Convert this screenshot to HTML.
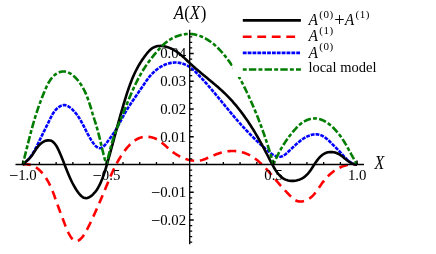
<!DOCTYPE html>
<html><head><meta charset="utf-8"><style>
html,body{margin:0;padding:0;background:#fff;}
svg{display:block;will-change:transform;}
text{font-family:"Liberation Serif",serif;font-size:14.8px;fill:#000;}
.it{font-style:italic;}
</style></head><body>
<svg width="436" height="254" viewBox="0 0 436 254">
<rect width="436" height="254" fill="#fff"/>
<g fill="none" stroke-linejoin="miter" stroke-miterlimit="6">
<path d="M22.70,164.50 L24.02,164.34 L25.32,164.28 L26.58,164.30 L27.81,164.41 L29.01,164.60 L30.18,164.86 L31.32,165.20 L32.43,165.60 L33.51,166.07 L34.56,166.61 L35.58,167.20 L36.57,167.84 L37.54,168.54 L38.47,169.28 L39.38,170.07 L40.26,170.90 L41.11,171.76 L41.93,172.65 L42.73,173.58 L43.49,174.53 L44.24,175.50 L44.95,176.48 L45.64,177.49 L46.30,178.50 L46.94,179.53 L47.56,180.57 L48.15,181.62 L48.73,182.69 L49.28,183.76 L49.82,184.84 L50.34,185.93 L50.84,187.03 L51.33,188.14 L51.81,189.25 L52.27,190.38 L52.72,191.50 L53.17,192.63 L53.60,193.77 L54.03,194.91 L54.45,196.05 L54.86,197.20 L55.27,198.35 L55.68,199.50 L56.09,200.65 L56.49,201.80 L56.90,202.95 L57.31,204.10 L57.72,205.25 L58.14,206.39 L58.55,207.53 L58.97,208.68 L59.39,209.82 L59.81,210.95 L60.24,212.09 L60.66,213.22 L61.08,214.35 L61.51,215.47 L61.93,216.60 L62.35,217.71 L62.78,218.83 L63.20,219.94 L63.62,221.05 L64.04,222.16 L64.45,223.26 L64.87,224.35 L65.28,225.44 L65.70,226.54 L66.12,227.63 L66.57,228.73 L67.03,229.84 L67.53,230.96 L68.07,232.10 L68.65,233.26 L69.28,234.44 L69.96,235.63 L70.69,236.78 L71.46,237.87 L72.28,238.86 L73.13,239.71 L74.01,240.40 L74.93,240.88 L75.87,241.13 L76.83,241.10 L77.80,240.83 L78.77,240.35 L79.74,239.67 L80.69,238.85 L81.61,237.90 L82.49,236.86 L83.31,235.76 L84.09,234.63 L84.81,233.47 L85.50,232.31 L86.15,231.15 L86.77,230.00 L87.37,228.87 L87.95,227.75 L88.51,226.66 L89.06,225.58 L89.59,224.51 L90.10,223.45 L90.61,222.39 L91.11,221.34 L91.60,220.29 L92.09,219.24 L92.58,218.18 L93.07,217.12 L93.56,216.05 L94.05,214.97 L94.54,213.88 L95.03,212.79 L95.52,211.70 L96.01,210.60 L96.50,209.49 L96.99,208.38 L97.49,207.26 L97.98,206.14 L98.47,205.02 L98.96,203.89 L99.44,202.76 L99.93,201.63 L100.42,200.50 L100.90,199.37 L101.39,198.23 L101.87,197.10 L102.35,195.96 L102.83,194.82 L103.30,193.69 L103.77,192.55 L104.24,191.42 L104.71,190.29 L105.18,189.16 L105.64,188.03 L106.10,186.91 L106.56,185.78 L107.02,184.66 L107.48,183.55 L107.94,182.43 L108.40,181.32 L108.86,180.21 L109.33,179.10 L109.80,178.00 L110.27,176.90 L110.74,175.80 L111.22,174.71 L111.71,173.62 L112.20,172.53 L112.69,171.44 L113.20,170.36 L113.71,169.29 L114.23,168.21 L114.75,167.15 L115.29,166.08 L115.84,165.02 L116.39,163.96 L116.96,162.91 L117.54,161.86 L118.13,160.81 L118.73,159.77 L119.35,158.74 L119.98,157.71 L120.62,156.68 L121.28,155.66 L121.95,154.64 L122.64,153.63 L123.35,152.63 L124.07,151.62 L124.81,150.63 L125.57,149.64 L126.35,148.66 L127.15,147.69 L127.96,146.74 L128.80,145.82 L129.65,144.91 L130.53,144.04 L131.43,143.19 L132.35,142.39 L133.29,141.62 L134.25,140.89 L135.24,140.21 L136.25,139.58 L137.28,139.01 L138.34,138.49 L139.42,138.03 L140.53,137.64 L141.66,137.32 L142.82,137.07 L144.00,136.89 L145.19,136.78 L146.40,136.74 L147.61,136.77 L148.82,136.86 L150.03,137.02 L151.23,137.25 L152.41,137.54 L153.58,137.89 L154.71,138.30 L155.82,138.77 L156.90,139.30 L157.94,139.88 L158.95,140.51 L159.94,141.19 L160.90,141.90 L161.84,142.64 L162.77,143.41 L163.69,144.20 L164.60,145.01 L165.50,145.83 L166.41,146.65 L167.31,147.47 L168.22,148.29 L169.14,149.09 L170.08,149.88 L171.03,150.65 L171.99,151.41 L172.97,152.14 L173.96,152.84 L174.96,153.53 L175.98,154.19 L177.02,154.83 L178.06,155.44 L179.13,156.03 L180.20,156.59 L181.30,157.12 L182.40,157.62 L183.52,158.09 L184.65,158.53 L185.80,158.94 L186.96,159.31 L188.14,159.65 L189.32,159.94 L190.51,160.20 L191.70,160.41 L192.90,160.57 L194.10,160.69 L195.30,160.75 L196.50,160.76 L197.69,160.71 L198.88,160.60 L200.06,160.43 L201.22,160.19 L202.38,159.89 L203.53,159.55 L204.67,159.15 L205.81,158.73 L206.93,158.27 L208.05,157.80 L209.16,157.32 L210.27,156.83 L211.38,156.35 L212.48,155.88 L213.58,155.41 L214.68,154.96 L215.79,154.52 L216.89,154.09 L218.00,153.69 L219.12,153.30 L220.24,152.94 L221.37,152.60 L222.51,152.28 L223.67,152.00 L224.83,151.75 L226.01,151.53 L227.20,151.34 L228.41,151.20 L229.62,151.08 L230.85,151.01 L232.07,150.97 L233.31,150.98 L234.54,151.02 L235.77,151.10 L236.99,151.22 L238.21,151.38 L239.42,151.58 L240.61,151.82 L241.79,152.10 L242.96,152.43 L244.10,152.79 L245.23,153.20 L246.35,153.64 L247.44,154.12 L248.52,154.63 L249.58,155.18 L250.63,155.76 L251.66,156.37 L252.68,157.00 L253.68,157.67 L254.67,158.36 L255.64,159.07 L256.60,159.81 L257.55,160.56 L258.48,161.34 L259.40,162.13 L260.31,162.94 L261.20,163.76 L262.08,164.60 L262.95,165.45 L263.81,166.31 L264.66,167.18 L265.50,168.06 L266.33,168.95 L267.15,169.84 L267.97,170.75 L268.78,171.65 L269.58,172.57 L270.37,173.49 L271.16,174.41 L271.95,175.34 L272.73,176.26 L273.51,177.19 L274.29,178.12 L275.07,179.05 L275.85,179.98 L276.62,180.91 L277.40,181.83 L278.18,182.75 L278.96,183.67 L279.75,184.58 L280.54,185.49 L281.33,186.39 L282.13,187.29 L282.93,188.18 L283.74,189.06 L284.56,189.95 L285.38,190.83 L286.22,191.72 L287.07,192.61 L287.92,193.50 L288.79,194.40 L289.67,195.30 L290.57,196.21 L291.48,197.11 L292.42,197.98 L293.39,198.79 L294.38,199.53 L295.41,200.19 L296.49,200.73 L297.61,201.14 L298.77,201.41 L299.99,201.53 L301.22,201.51 L302.47,201.36 L303.70,201.11 L304.90,200.77 L306.05,200.34 L307.15,199.85 L308.20,199.29 L309.20,198.67 L310.16,197.99 L311.07,197.26 L311.95,196.48 L312.80,195.65 L313.61,194.79 L314.40,193.89 L315.17,192.95 L315.92,192.00 L316.65,191.01 L317.37,190.01 L318.08,189.00 L318.79,187.97 L319.50,186.94 L320.20,185.91 L320.92,184.88 L321.64,183.86 L322.38,182.85 L323.13,181.86 L323.90,180.88 L324.68,179.92 L325.48,178.98 L326.30,178.05 L327.13,177.15 L327.98,176.27 L328.84,175.41 L329.72,174.58 L330.62,173.77 L331.53,172.99 L332.46,172.23 L333.41,171.50 L334.37,170.80 L335.35,170.13 L336.35,169.50 L337.36,168.89 L338.39,168.32 L339.43,167.78 L340.49,167.27 L341.57,166.81 L342.67,166.38 L343.78,165.99 L344.90,165.63 L346.05,165.32 L347.21,165.05 L348.39,164.82 L349.58,164.64 L350.79,164.50 L352.02,164.40 L353.26,164.35 L354.53,164.35 L355.80,164.40 L357.10,164.50" stroke="#ff0000" stroke-width="2.6" stroke-dasharray="8.85 5.73" stroke-dashoffset="0.7"/>
<path d="M22.70,164.50 L23.72,163.75 L24.69,162.97 L25.62,162.16 L26.52,161.32 L27.38,160.45 L28.21,159.56 L29.01,158.64 L29.78,157.69 L30.51,156.72 L31.23,155.74 L31.91,154.73 L32.58,153.71 L33.22,152.67 L33.84,151.61 L34.45,150.55 L35.04,149.47 L35.62,148.38 L36.18,147.29 L36.74,146.19 L37.29,145.08 L37.83,143.97 L38.36,142.86 L38.89,141.75 L39.43,140.65 L39.96,139.54 L40.49,138.44 L41.03,137.34 L41.57,136.25 L42.11,135.15 L42.64,134.06 L43.19,132.97 L43.73,131.89 L44.27,130.80 L44.81,129.71 L45.35,128.63 L45.89,127.54 L46.43,126.45 L46.97,125.36 L47.51,124.27 L48.05,123.18 L48.59,122.08 L49.13,120.98 L49.66,119.88 L50.19,118.77 L50.73,117.66 L51.29,116.55 L51.87,115.45 L52.48,114.36 L53.14,113.29 L53.85,112.23 L54.62,111.19 L55.45,110.18 L56.34,109.22 L57.28,108.32 L58.27,107.50 L59.28,106.77 L60.33,106.16 L61.40,105.67 L62.49,105.33 L63.58,105.16 L64.68,105.16 L65.77,105.34 L66.85,105.68 L67.92,106.16 L68.98,106.76 L70.01,107.47 L71.02,108.27 L72.01,109.15 L72.96,110.08 L73.88,111.05 L74.76,112.05 L75.60,113.05 L76.39,114.05 L77.15,115.04 L77.86,116.03 L78.55,117.02 L79.20,118.01 L79.82,119.01 L80.42,120.00 L81.01,121.00 L81.57,122.01 L82.12,123.02 L82.66,124.04 L83.20,125.07 L83.73,126.11 L84.26,127.17 L84.80,128.23 L85.34,129.31 L85.89,130.41 L86.46,131.52 L87.04,132.65 L87.65,133.80 L88.28,134.98 L88.94,136.17 L89.62,137.39 L90.35,138.63 L91.10,139.89 L91.89,141.14 L92.71,142.36 L93.56,143.53 L94.42,144.62 L95.31,145.61 L96.20,146.47 L97.11,147.19 L98.03,147.73 L98.95,148.07 L99.87,148.19 L100.79,148.06 L101.71,147.71 L102.61,147.15 L103.51,146.42 L104.40,145.55 L105.28,144.58 L106.14,143.53 L106.99,142.44 L107.82,141.34 L108.63,140.25 L109.42,139.18 L110.20,138.13 L110.95,137.08 L111.69,136.05 L112.41,135.02 L113.12,134.00 L113.81,132.97 L114.47,131.95 L115.13,130.92 L115.76,129.89 L116.38,128.84 L116.99,127.79 L117.59,126.74 L118.17,125.68 L118.75,124.62 L119.32,123.55 L119.89,122.49 L120.45,121.42 L121.01,120.35 L121.57,119.28 L122.14,118.21 L122.71,117.14 L123.28,116.07 L123.86,115.01 L124.46,113.95 L125.06,112.89 L125.67,111.84 L126.29,110.79 L126.92,109.75 L127.56,108.71 L128.21,107.67 L128.86,106.63 L129.53,105.60 L130.19,104.57 L130.87,103.54 L131.55,102.52 L132.23,101.50 L132.92,100.48 L133.61,99.46 L134.31,98.44 L135.00,97.43 L135.70,96.41 L136.40,95.40 L137.11,94.39 L137.81,93.37 L138.51,92.36 L139.21,91.35 L139.91,90.34 L140.61,89.33 L141.31,88.32 L142.00,87.31 L142.69,86.30 L143.38,85.29 L144.06,84.27 L144.74,83.26 L145.42,82.25 L146.11,81.24 L146.80,80.25 L147.51,79.26 L148.24,78.28 L148.98,77.31 L149.75,76.35 L150.55,75.42 L151.38,74.50 L152.23,73.60 L153.11,72.72 L154.01,71.87 L154.94,71.04 L155.89,70.24 L156.86,69.47 L157.86,68.73 L158.87,68.02 L159.90,67.35 L160.95,66.71 L162.02,66.11 L163.11,65.55 L164.21,65.03 L165.32,64.56 L166.45,64.13 L167.59,63.74 L168.75,63.41 L169.91,63.13 L171.09,62.89 L172.27,62.72 L173.46,62.60 L174.66,62.53 L175.86,62.53 L177.07,62.59 L178.28,62.70 L179.49,62.88 L180.69,63.12 L181.89,63.41 L183.07,63.76 L184.24,64.17 L185.39,64.63 L186.51,65.14 L187.60,65.70 L188.67,66.31 L189.70,66.96 L190.69,67.67 L191.64,68.41 L192.57,69.19 L193.48,70.00 L194.36,70.83 L195.24,71.68 L196.10,72.54 L196.96,73.40 L197.81,74.27 L198.66,75.14 L199.50,76.02 L200.34,76.91 L201.18,77.80 L202.01,78.69 L202.83,79.59 L203.66,80.49 L204.48,81.40 L205.30,82.31 L206.11,83.22 L206.92,84.13 L207.73,85.05 L208.54,85.98 L209.34,86.90 L210.14,87.83 L210.94,88.76 L211.73,89.69 L212.52,90.63 L213.32,91.57 L214.11,92.51 L214.89,93.45 L215.68,94.39 L216.46,95.34 L217.25,96.28 L218.03,97.23 L218.81,98.17 L219.59,99.12 L220.37,100.07 L221.15,101.02 L221.93,101.97 L222.71,102.92 L223.49,103.87 L224.26,104.82 L225.04,105.76 L225.82,106.71 L226.60,107.66 L227.38,108.60 L228.16,109.55 L228.94,110.49 L229.72,111.43 L230.50,112.37 L231.29,113.31 L232.07,114.25 L232.86,115.18 L233.65,116.12 L234.44,117.05 L235.23,117.97 L236.03,118.90 L236.82,119.82 L237.62,120.74 L238.42,121.65 L239.22,122.56 L240.03,123.47 L240.84,124.38 L241.65,125.28 L242.47,126.18 L243.29,127.08 L244.11,127.97 L244.94,128.86 L245.77,129.75 L246.60,130.63 L247.44,131.51 L248.28,132.39 L249.13,133.27 L249.98,134.14 L250.84,135.02 L251.70,135.88 L252.57,136.75 L253.44,137.62 L254.31,138.48 L255.20,139.34 L256.09,140.20 L256.98,141.05 L257.88,141.91 L258.79,142.76 L259.70,143.61 L260.62,144.46 L261.55,145.31 L262.48,146.15 L263.42,147.00 L264.37,147.84 L265.32,148.68 L266.28,149.52 L267.25,150.36 L268.23,151.19 L269.22,152.00 L270.21,152.79 L271.21,153.53 L272.22,154.23 L273.23,154.86 L274.25,155.43 L275.28,155.91 L276.31,156.29 L277.36,156.58 L278.40,156.74 L279.46,156.78 L280.52,156.69 L281.59,156.45 L282.66,156.04 L283.75,155.48 L284.83,154.75 L285.91,153.91 L286.97,152.99 L288.02,152.03 L289.04,151.05 L290.03,150.10 L291.00,149.18 L291.94,148.28 L292.86,147.41 L293.77,146.55 L294.68,145.71 L295.58,144.87 L296.49,144.05 L297.40,143.23 L298.32,142.43 L299.25,141.65 L300.19,140.89 L301.15,140.16 L302.13,139.45 L303.13,138.77 L304.15,138.12 L305.20,137.51 L306.28,136.94 L307.39,136.40 L308.52,135.92 L309.67,135.48 L310.85,135.11 L312.03,134.80 L313.22,134.56 L314.42,134.40 L315.61,134.32 L316.79,134.34 L317.96,134.45 L319.12,134.66 L320.25,134.97 L321.36,135.39 L322.45,135.91 L323.51,136.50 L324.56,137.17 L325.58,137.91 L326.59,138.70 L327.57,139.53 L328.54,140.40 L329.49,141.29 L330.42,142.20 L331.34,143.12 L332.24,144.04 L333.12,144.94 L334.00,145.82 L334.85,146.67 L335.70,147.51 L336.54,148.33 L337.36,149.15 L338.18,149.98 L338.99,150.81 L339.80,151.66 L340.60,152.53 L341.40,153.43 L342.21,154.35 L343.01,155.27 L343.83,156.20 L344.66,157.12 L345.51,158.03 L346.38,158.91 L347.28,159.76 L348.20,160.57 L349.16,161.33 L350.15,162.02 L351.18,162.66 L352.26,163.21 L353.39,163.68 L354.57,164.06 L355.80,164.33 L357.10,164.50" stroke="#0000ff" stroke-width="2.6" stroke-dasharray="3.8 1.06"/>
<path d="M22.70,164.50 L23.77,163.50 L24.82,162.56 L25.87,161.65 L26.89,160.77 L27.89,159.88 L28.86,158.96 L29.80,158.01 L30.70,156.99 L31.57,155.89 L32.40,154.74 L33.22,153.54 L34.02,152.31 L34.83,151.06 L35.65,149.81 L36.48,148.58 L37.35,147.38 L38.26,146.22 L39.22,145.11 L40.24,144.09 L41.33,143.15 L42.48,142.32 L43.70,141.60 L44.95,141.03 L46.22,140.61 L47.50,140.36 L48.77,140.29 L50.01,140.43 L51.22,140.79 L52.37,141.39 L53.45,142.22 L54.45,143.25 L55.38,144.42 L56.23,145.68 L57.00,146.98 L57.70,148.31 L58.36,149.65 L58.98,151.00 L59.58,152.35 L60.17,153.68 L60.73,155.01 L61.29,156.34 L61.83,157.65 L62.36,158.96 L62.88,160.27 L63.39,161.56 L63.90,162.86 L64.40,164.14 L64.90,165.43 L65.39,166.70 L65.89,167.98 L66.39,169.25 L66.89,170.51 L67.39,171.77 L67.91,173.03 L68.43,174.28 L68.96,175.54 L69.50,176.78 L70.05,178.03 L70.62,179.28 L71.21,180.52 L71.81,181.76 L72.43,183.00 L73.08,184.24 L73.76,185.48 L74.47,186.72 L75.21,187.96 L75.99,189.21 L76.81,190.45 L77.68,191.70 L78.59,192.94 L79.55,194.14 L80.55,195.26 L81.59,196.25 L82.67,197.08 L83.79,197.70 L84.94,198.08 L86.13,198.17 L87.35,197.98 L88.57,197.55 L89.78,196.91 L90.98,196.10 L92.14,195.16 L93.25,194.11 L94.30,193.00 L95.27,191.85 L96.17,190.66 L97.01,189.45 L97.79,188.21 L98.51,186.96 L99.20,185.68 L99.84,184.40 L100.44,183.10 L101.02,181.80 L101.57,180.49 L102.10,179.19 L102.61,177.87 L103.09,176.56 L103.56,175.25 L104.02,173.93 L104.45,172.61 L104.88,171.28 L105.29,169.96 L105.70,168.63 L106.10,167.31 L106.49,165.98 L106.87,164.65 L107.26,163.31 L107.64,161.98 L108.02,160.65 L108.39,159.31 L108.77,157.98 L109.14,156.64 L109.52,155.30 L109.89,153.97 L110.26,152.63 L110.63,151.29 L110.99,149.95 L111.36,148.61 L111.73,147.26 L112.09,145.92 L112.45,144.58 L112.82,143.23 L113.18,141.89 L113.54,140.55 L113.90,139.20 L114.27,137.86 L114.63,136.51 L114.99,135.17 L115.35,133.82 L115.72,132.47 L116.08,131.13 L116.45,129.78 L116.81,128.43 L117.18,127.09 L117.54,125.74 L117.91,124.39 L118.28,123.05 L118.65,121.70 L119.02,120.36 L119.39,119.01 L119.77,117.66 L120.14,116.32 L120.52,114.97 L120.90,113.63 L121.28,112.28 L121.67,110.94 L122.06,109.59 L122.45,108.25 L122.84,106.91 L123.23,105.57 L123.63,104.22 L124.03,102.88 L124.43,101.54 L124.84,100.20 L125.25,98.86 L125.66,97.53 L126.08,96.19 L126.50,94.86 L126.93,93.52 L127.36,92.19 L127.80,90.86 L128.25,89.54 L128.70,88.22 L129.16,86.90 L129.63,85.59 L130.11,84.28 L130.60,82.98 L131.10,81.68 L131.61,80.38 L132.13,79.10 L132.66,77.82 L133.21,76.54 L133.77,75.27 L134.34,74.01 L134.92,72.76 L135.52,71.52 L136.14,70.28 L136.77,69.05 L137.42,67.83 L138.08,66.62 L138.76,65.42 L139.46,64.23 L140.18,63.05 L140.91,61.88 L141.67,60.72 L142.44,59.56 L143.24,58.41 L144.07,57.25 L144.92,56.10 L145.79,54.95 L146.69,53.78 L147.62,52.63 L148.58,51.51 L149.59,50.44 L150.64,49.44 L151.74,48.56 L152.89,47.79 L154.10,47.17 L155.35,46.68 L156.65,46.32 L157.98,46.07 L159.33,45.94 L160.70,45.92 L162.08,45.99 L163.47,46.16 L164.85,46.41 L166.22,46.73 L167.57,47.13 L168.90,47.60 L170.20,48.12 L171.48,48.71 L172.73,49.34 L173.97,50.02 L175.17,50.75 L176.36,51.52 L177.52,52.32 L178.65,53.15 L179.76,54.01 L180.85,54.90 L181.91,55.80 L182.96,56.72 L183.98,57.65 L185.00,58.59 L186.00,59.54 L187.00,60.50 L188.00,61.45 L189.00,62.40 L190.00,63.35 L191.01,64.29 L192.03,65.23 L193.06,66.16 L194.10,67.08 L195.14,67.99 L196.19,68.91 L197.24,69.81 L198.30,70.72 L199.36,71.61 L200.43,72.51 L201.50,73.40 L202.58,74.30 L203.65,75.19 L204.73,76.08 L205.81,76.97 L206.89,77.85 L207.97,78.74 L209.05,79.63 L210.13,80.52 L211.21,81.42 L212.28,82.31 L213.35,83.21 L214.42,84.12 L215.49,85.02 L216.55,85.93 L217.61,86.85 L218.66,87.77 L219.70,88.70 L220.74,89.63 L221.78,90.57 L222.80,91.52 L223.82,92.47 L224.82,93.44 L225.82,94.41 L226.81,95.39 L227.79,96.38 L228.76,97.38 L229.72,98.39 L230.67,99.41 L231.61,100.44 L232.54,101.47 L233.46,102.52 L234.38,103.57 L235.28,104.63 L236.18,105.70 L237.06,106.77 L237.94,107.85 L238.81,108.94 L239.67,110.04 L240.53,111.14 L241.37,112.25 L242.21,113.37 L243.04,114.49 L243.86,115.62 L244.67,116.75 L245.48,117.89 L246.28,119.03 L247.07,120.18 L247.86,121.34 L248.63,122.50 L249.40,123.66 L250.17,124.83 L250.92,126.01 L251.67,127.18 L252.42,128.37 L253.15,129.55 L253.89,130.74 L254.61,131.93 L255.33,133.13 L256.04,134.33 L256.75,135.53 L257.45,136.73 L258.14,137.94 L258.83,139.15 L259.52,140.36 L260.20,141.57 L260.87,142.79 L261.54,144.00 L262.20,145.22 L262.86,146.44 L263.52,147.66 L264.17,148.88 L264.81,150.10 L265.45,151.32 L266.09,152.54 L266.72,153.77 L267.35,154.99 L267.98,156.21 L268.60,157.43 L269.23,158.66 L269.86,159.89 L270.50,161.13 L271.15,162.38 L271.82,163.64 L272.50,164.92 L273.21,166.20 L273.94,167.49 L274.70,168.77 L275.48,170.03 L276.30,171.27 L277.16,172.47 L278.05,173.62 L278.98,174.73 L279.95,175.76 L280.98,176.73 L282.04,177.61 L283.17,178.39 L284.34,179.08 L285.57,179.65 L286.85,180.12 L288.18,180.48 L289.53,180.73 L290.91,180.87 L292.31,180.92 L293.71,180.86 L295.11,180.71 L296.50,180.46 L297.87,180.12 L299.22,179.69 L300.52,179.17 L301.78,178.56 L302.99,177.87 L304.14,177.10 L305.22,176.26 L306.25,175.34 L307.22,174.36 L308.15,173.32 L309.05,172.23 L309.91,171.10 L310.75,169.94 L311.57,168.74 L312.38,167.52 L313.18,166.29 L313.99,165.05 L314.80,163.80 L315.63,162.57 L316.48,161.35 L317.35,160.15 L318.24,159.00 L319.17,157.90 L320.14,156.86 L321.14,155.90 L322.19,155.02 L323.29,154.24 L324.44,153.56 L325.65,153.01 L326.91,152.58 L328.22,152.28 L329.57,152.10 L330.94,152.04 L332.31,152.11 L333.69,152.29 L335.05,152.59 L336.38,153.01 L337.67,153.54 L338.92,154.18 L340.13,154.91 L341.30,155.72 L342.44,156.58 L343.57,157.48 L344.69,158.39 L345.80,159.31 L346.93,160.21 L348.06,161.07 L349.22,161.87 L350.41,162.61 L351.64,163.24 L352.92,163.77 L354.25,164.17 L355.64,164.42 L357.10,164.50" stroke="#000" stroke-width="2.6"/>
<path d="M22.70,164.50 L22.84,163.96 L22.98,163.42 L23.11,162.88 L23.25,162.35 L23.39,161.81 L23.53,161.28 L23.66,160.74 L23.80,160.21 L23.93,159.68 L24.07,159.14 L24.20,158.61 L24.33,158.08 L24.47,157.56 L24.60,157.03 L24.73,156.50 L24.86,155.97 L25.00,155.45 L25.13,154.92 L25.26,154.40 L25.39,153.87 L25.52,153.35 L25.65,152.83 L25.78,152.31 L25.91,151.79 L26.04,151.27 L26.17,150.75 L26.30,150.23 L26.43,149.71 L26.56,149.20 L26.69,148.68 L26.82,148.16 L26.95,147.65 L27.08,147.13 L27.20,146.62 L27.33,146.11 L27.46,145.59 L27.59,145.08 L27.72,144.57 L27.85,144.06 L27.98,143.55 L28.11,143.04 L28.24,142.53 L28.36,142.02 L28.49,141.51 L28.62,141.00 L28.75,140.49 L28.88,139.98 L29.01,139.48 L29.14,138.97 L29.27,138.47 L29.40,137.96 L29.53,137.45 L29.66,136.95 L29.79,136.45 L29.93,135.94 L30.06,135.44 L30.19,134.93 L30.32,134.43 L30.45,133.93 L30.59,133.43 L30.72,132.92 L30.85,132.42 L30.99,131.92 L31.12,131.42 L31.26,130.92 L31.39,130.42 L31.53,129.91 L31.67,129.41 L31.80,128.91 L31.94,128.41 L32.08,127.91 L32.22,127.41 L32.36,126.91 L32.49,126.42 L32.63,125.92 L32.78,125.42 L32.92,124.92 L33.06,124.42 L33.20,123.92 L33.34,123.42 L33.49,122.92 L33.63,122.42 L33.78,121.92 L33.92,121.43 L34.07,120.93 L34.22,120.43 L34.37,119.93 L34.52,119.43 L34.67,118.93 L34.82,118.43 L34.97,117.94 L35.12,117.44 L35.28,116.94 L35.43,116.44 L35.58,115.94 L35.74,115.44 L35.90,114.94 L36.06,114.44 L36.21,113.94 L36.37,113.44 L36.54,112.94 L36.70,112.44 L36.86,111.94 L37.02,111.44 L37.19,110.94 L37.35,110.44 L37.52,109.94 L37.69,109.44 L37.86,108.94 L38.03,108.44 L38.20,107.93 L38.37,107.43 L38.55,106.93 L38.72,106.43 L38.90,105.92 L39.08,105.42 L39.26,104.92 L39.44,104.41 L39.62,103.91 L39.80,103.40 L39.98,102.90 L40.17,102.39 L40.36,101.89 L40.54,101.38 L40.73,100.87 L40.92,100.36 L41.12,99.86 L41.31,99.35 L41.50,98.84 L41.70,98.33 L41.90,97.82 L42.10,97.31 L42.30,96.80 L42.50,96.29 L42.71,95.78 L42.91,95.26 L43.12,94.75 L43.33,94.24 L43.54,93.72 L43.75,93.21 L43.96,92.69 L44.18,92.18 L44.39,91.66 L44.61,91.14 L44.83,90.63 L45.05,90.11 L45.28,89.59 L45.50,89.07 L45.73,88.55 L45.96,88.04 L46.19,87.52 L46.43,87.01 L46.67,86.49 L46.91,85.98 L47.16,85.48 L47.41,84.97 L47.66,84.47 L47.92,83.97 L48.18,83.48 L48.45,82.99 L48.72,82.51 L49.00,82.03 L49.28,81.56 L49.57,81.09 L49.86,80.63 L50.15,80.18 L50.46,79.73 L50.77,79.29 L51.08,78.86 L51.41,78.44 L51.73,78.02 L52.07,77.61 L52.41,77.22 L52.76,76.83 L53.12,76.45 L53.48,76.08 L53.86,75.73 L54.24,75.38 L54.62,75.05 L55.02,74.72 L55.43,74.41 L55.84,74.11 L56.26,73.83 L56.70,73.55 L57.14,73.29 L57.59,73.05 L58.04,72.82 L58.51,72.60 L58.97,72.41 L59.45,72.22 L59.93,72.06 L60.41,71.92 L60.89,71.79 L61.38,71.68 L61.87,71.60 L62.36,71.53 L62.85,71.49 L63.34,71.47 L63.83,71.47 L64.31,71.50 L64.80,71.55 L65.28,71.61 L65.76,71.70 L66.24,71.81 L66.71,71.94 L67.18,72.09 L67.65,72.26 L68.12,72.44 L68.58,72.65 L69.05,72.86 L69.50,73.10 L69.96,73.35 L70.41,73.61 L70.85,73.89 L71.30,74.18 L71.74,74.49 L72.17,74.80 L72.60,75.13 L73.03,75.47 L73.45,75.82 L73.87,76.18 L74.28,76.55 L74.68,76.93 L75.08,77.32 L75.48,77.71 L75.87,78.11 L76.26,78.52 L76.63,78.93 L77.01,79.35 L77.37,79.77 L77.74,80.20 L78.09,80.62 L78.44,81.05 L78.78,81.49 L79.11,81.93 L79.44,82.37 L79.77,82.81 L80.09,83.25 L80.40,83.70 L80.70,84.15 L81.00,84.60 L81.30,85.06 L81.59,85.52 L81.87,85.98 L82.15,86.44 L82.43,86.90 L82.70,87.37 L82.96,87.84 L83.22,88.31 L83.48,88.78 L83.73,89.26 L83.98,89.73 L84.22,90.21 L84.46,90.69 L84.69,91.17 L84.92,91.66 L85.15,92.14 L85.37,92.63 L85.59,93.12 L85.80,93.61 L86.02,94.10 L86.22,94.59 L86.43,95.08 L86.63,95.58 L86.83,96.08 L87.03,96.57 L87.22,97.07 L87.41,97.57 L87.60,98.07 L87.78,98.57 L87.97,99.08 L88.15,99.58 L88.32,100.08 L88.50,100.59 L88.67,101.09 L88.85,101.60 L89.02,102.11 L89.18,102.61 L89.35,103.12 L89.52,103.63 L89.68,104.14 L89.84,104.65 L90.01,105.16 L90.17,105.67 L90.33,106.18 L90.48,106.69 L90.64,107.20 L90.80,107.71 L90.96,108.22 L91.11,108.72 L91.27,109.23 L91.42,109.74 L91.58,110.25 L91.73,110.76 L91.89,111.27 L92.04,111.78 L92.20,112.28 L92.36,112.79 L92.51,113.30 L92.67,113.80 L92.82,114.31 L92.98,114.81 L93.14,115.32 L93.30,115.82 L93.45,116.33 L93.61,116.83 L93.77,117.33 L93.92,117.84 L94.08,118.34 L94.24,118.84 L94.39,119.35 L94.55,119.85 L94.70,120.35 L94.86,120.86 L95.01,121.36 L95.17,121.86 L95.32,122.37 L95.47,122.87 L95.63,123.37 L95.78,123.88 L95.93,124.38 L96.08,124.89 L96.23,125.39 L96.38,125.90 L96.53,126.40 L96.67,126.91 L96.82,127.42 L96.97,127.92 L97.11,128.43 L97.25,128.94 L97.40,129.45 L97.54,129.96 L97.68,130.47 L97.82,130.98 L97.95,131.49 L98.09,132.00 L98.23,132.52 L98.36,133.03 L98.49,133.54 L98.63,134.06 L98.76,134.57 L98.89,135.09 L99.02,135.60 L99.15,136.12 L99.28,136.64 L99.41,137.15 L99.53,137.67 L99.66,138.19 L99.79,138.71 L99.91,139.22 L100.04,139.74 L100.16,140.26 L100.29,140.78 L100.41,141.30 L100.54,141.82 L100.66,142.34 L100.78,142.86 L100.91,143.38 L101.03,143.90 L101.15,144.42 L101.28,144.94 L101.40,145.46 L101.52,145.98 L101.64,146.50 L101.77,147.02 L101.89,147.54 L102.01,148.06 L102.14,148.58 L102.26,149.10 L102.39,149.62 L102.51,150.14 L102.64,150.65 L102.76,151.17 L102.89,151.69 L103.01,152.21 L103.14,152.73 L103.27,153.24 L103.40,153.76 L103.52,154.28 L103.65,154.79 L103.78,155.31 L103.91,155.83 L104.05,156.34 L104.18,156.86 L104.31,157.37 L104.45,157.88 L104.58,158.40 L104.72,158.91 L104.86,159.42 L105.00,159.93 L105.14,160.44 L105.28,160.95 L105.42,161.46 L105.56,161.97 L105.71,162.48 L105.85,162.98 L106.00,163.49 L106.15,164.00 L106.30,164.50 M106.30,164.50 L106.51,163.71 L106.72,162.92 L106.92,162.12 L107.13,161.33 L107.33,160.53 L107.53,159.74 L107.73,158.94 L107.94,158.15 L108.14,157.35 L108.33,156.56 L108.53,155.76 L108.73,154.96 L108.93,154.17 L109.13,153.37 L109.34,152.57 L109.54,151.78 L109.74,150.98 L109.95,150.19 L110.15,149.40 L110.36,148.60 L110.57,147.81 L110.78,147.02 L111.00,146.23 L111.21,145.44 L111.43,144.65 L111.66,143.87 L111.88,143.08 L112.11,142.30 L112.34,141.52 L112.58,140.74 L112.82,139.96 L113.06,139.18 L113.31,138.41 L113.57,137.64 L113.82,136.87 L114.09,136.10 L114.35,135.33 L114.62,134.56 L114.89,133.80 L115.17,133.04 L115.45,132.28 L115.73,131.52 L116.01,130.76 L116.30,130.00 L116.59,129.25 L116.88,128.49 L117.18,127.73 L117.48,126.98 L117.78,126.23 L118.08,125.47 L118.38,124.72 L118.68,123.97 L118.99,123.22 L119.30,122.47 L119.61,121.72 L119.92,120.97 L120.23,120.22 L120.54,119.46 L120.85,118.71 L121.16,117.96 L121.47,117.21 L121.78,116.46 L122.09,115.70 L122.41,114.95 L122.72,114.20 L123.03,113.44 L123.34,112.69 L123.65,111.93 L123.95,111.17 L124.26,110.41 L124.57,109.65 L124.88,108.90 L125.19,108.14 L125.50,107.38 L125.80,106.62 L126.11,105.86 L126.42,105.10 L126.73,104.34 L127.04,103.58 L127.35,102.82 L127.66,102.06 L127.97,101.29 L128.29,100.54 L128.60,99.78 L128.91,99.02 L129.23,98.26 L129.55,97.50 L129.87,96.74 L130.19,95.98 L130.51,95.23 L130.83,94.47 L131.15,93.72 L131.48,92.96 L131.81,92.21 L132.14,91.46 L132.47,90.71 L132.80,89.96 L133.14,89.21 L133.48,88.46 L133.82,87.72 L134.16,86.97 L134.51,86.23 L134.86,85.49 L135.21,84.75 L135.56,84.01 L135.92,83.27 L136.28,82.54 L136.64,81.81 L137.01,81.08 L137.38,80.35 L137.75,79.62 L138.13,78.90 L138.51,78.17 L138.89,77.45 L139.28,76.74 L139.67,76.02 L140.07,75.31 L140.47,74.60 L140.87,73.89 L141.28,73.18 L141.69,72.48 L142.11,71.78 L142.53,71.09 L142.95,70.39 L143.38,69.70 L143.82,69.01 L144.25,68.33 L144.70,67.65 L145.15,66.97 L145.60,66.29 L146.06,65.62 L146.52,64.95 L146.98,64.28 L147.45,63.61 L147.92,62.95 L148.40,62.29 L148.88,61.63 L149.37,60.98 L149.86,60.32 L150.35,59.67 L150.84,59.03 L151.34,58.38 L151.85,57.74 L152.35,57.10 L152.86,56.46 L153.37,55.82 L153.89,55.19 L154.41,54.56 L154.93,53.93 L155.46,53.30 L155.98,52.68 L156.51,52.05 L157.05,51.43 L157.58,50.81 L158.12,50.20 L158.66,49.58 L159.21,48.97 L159.76,48.37 L160.32,47.77 L160.88,47.18 L161.45,46.59 L162.02,46.01 L162.60,45.44 L163.19,44.88 L163.79,44.32 L164.40,43.78 L165.01,43.25 L165.63,42.72 L166.27,42.21 L166.91,41.72 L167.57,41.23 L168.23,40.76 L168.91,40.30 L169.59,39.86 L170.29,39.43 L170.99,39.01 L171.70,38.61 L172.41,38.22 L173.14,37.85 L173.87,37.49 L174.61,37.15 L175.36,36.83 L176.11,36.52 L176.87,36.22 L177.63,35.95 L178.40,35.69 L179.17,35.44 L179.95,35.22 L180.73,35.01 L181.51,34.82 L182.30,34.65 L183.09,34.49 L183.88,34.36 L184.68,34.24 L185.47,34.14 L186.27,34.07 L187.07,34.01 L187.87,33.97 L188.67,33.95 L189.47,33.95 L190.27,33.97 L191.06,34.01 L191.86,34.08 L192.65,34.16 L193.45,34.27 L194.24,34.40 L195.02,34.55 L195.81,34.72 L196.59,34.91 L197.37,35.12 L198.14,35.35 L198.92,35.60 L199.68,35.87 L200.45,36.15 L201.20,36.46 L201.96,36.78 L202.71,37.11 L203.45,37.46 L204.19,37.83 L204.92,38.22 L205.65,38.61 L206.37,39.02 L207.09,39.45 L207.80,39.88 L208.50,40.33 L209.20,40.80 L209.89,41.27 L210.57,41.75 L211.24,42.24 L211.91,42.75 L212.57,43.26 L213.22,43.78 L213.86,44.31 L214.50,44.85 L215.12,45.39 L215.74,45.94 L216.35,46.50 L216.95,47.06 L217.54,47.64 L218.12,48.21 L218.70,48.79 L219.27,49.38 L219.84,49.98 L220.40,50.57 L220.95,51.18 L221.49,51.78 L222.03,52.40 L222.57,53.01 L223.10,53.63 L223.62,54.26 L224.14,54.88 L224.66,55.52 L225.17,56.15 L225.68,56.79 L226.18,57.43 L226.68,58.07 L227.17,58.72 L227.66,59.37 L228.15,60.02 L228.63,60.68 L229.11,61.34 L229.59,62.00 L230.06,62.66 L230.52,63.33 L230.99,64.00 L231.45,64.67 L231.90,65.35 L232.36,66.03 L232.80,66.71 L233.25,67.39 L233.69,68.08 L234.13,68.76 L234.56,69.45 L235.00,70.15 L235.42,70.84 L235.85,71.54 L236.27,72.24 L236.69,72.94 L237.11,73.64 L237.52,74.35 L237.93,75.05 L238.34,75.76 L238.74,76.48 L239.14,77.19 L239.54,77.90 L239.94,78.62 L240.33,79.34 L240.72,80.06 L241.11,80.78 L241.49,81.50 L241.87,82.23 L242.25,82.95 L242.63,83.68 L243.01,84.41 L243.38,85.14 L243.75,85.87 L244.12,86.60 L244.49,87.34 L244.85,88.07 L245.21,88.81 L245.57,89.55 L245.93,90.29 L246.29,91.03 L246.64,91.77 L246.99,92.51 L247.34,93.25 L247.69,93.99 L248.04,94.73 L248.39,95.48 L248.73,96.22 L249.07,96.97 L249.41,97.71 L249.75,98.46 L250.09,99.21 L250.43,99.96 L250.76,100.70 L251.09,101.45 L251.42,102.20 L251.75,102.95 L252.08,103.70 L252.41,104.45 L252.74,105.21 L253.06,105.96 L253.38,106.71 L253.70,107.47 L254.02,108.22 L254.34,108.97 L254.66,109.73 L254.97,110.48 L255.28,111.24 L255.60,112.00 L255.91,112.75 L256.21,113.51 L256.52,114.27 L256.83,115.03 L257.13,115.79 L257.43,116.55 L257.74,117.31 L258.04,118.07 L258.33,118.83 L258.63,119.59 L258.93,120.36 L259.22,121.12 L259.51,121.88 L259.80,122.64 L260.09,123.41 L260.38,124.17 L260.67,124.94 L260.96,125.70 L261.24,126.47 L261.52,127.24 L261.80,128.00 L262.08,128.77 L262.36,129.54 L262.64,130.31 L262.91,131.08 L263.19,131.85 L263.46,132.62 L263.73,133.39 L264.00,134.16 L264.27,134.93 L264.54,135.70 L264.80,136.47 L265.07,137.24 L265.33,138.02 L265.59,138.79 L265.86,139.56 L266.11,140.34 L266.37,141.11 L266.63,141.88 L266.88,142.66 L267.14,143.44 L267.39,144.21 L267.64,144.99 L267.89,145.76 L268.14,146.54 L268.39,147.32 L268.63,148.10 L268.88,148.87 L269.12,149.65 L269.36,150.43 L269.60,151.21 L269.84,151.99 L270.08,152.77 L270.32,153.55 L270.55,154.33 L270.79,155.11 L271.02,155.89 L271.25,156.67 L271.48,157.45 L271.71,158.23 L271.94,159.02 L272.17,159.80 L272.39,160.58 L272.62,161.36 L272.84,162.15 L273.06,162.93 L273.28,163.72 L273.50,164.50 M273.50,164.50 L273.62,164.19 L273.75,163.88 L273.87,163.57 L273.99,163.26 L274.12,162.96 L274.24,162.65 L274.37,162.35 L274.50,162.04 L274.63,161.74 L274.75,161.43 L274.88,161.13 L275.01,160.83 L275.14,160.53 L275.27,160.23 L275.41,159.93 L275.54,159.63 L275.67,159.33 L275.80,159.03 L275.94,158.73 L276.07,158.43 L276.21,158.14 L276.35,157.84 L276.48,157.55 L276.62,157.25 L276.76,156.96 L276.90,156.67 L277.04,156.37 L277.18,156.08 L277.32,155.79 L277.46,155.50 L277.61,155.21 L277.75,154.92 L277.89,154.63 L278.04,154.34 L278.18,154.05 L278.33,153.77 L278.48,153.48 L278.62,153.19 L278.77,152.91 L278.92,152.62 L279.07,152.34 L279.22,152.05 L279.38,151.77 L279.53,151.49 L279.68,151.20 L279.83,150.92 L279.99,150.64 L280.14,150.36 L280.30,150.08 L280.46,149.80 L280.62,149.52 L280.77,149.24 L280.93,148.96 L281.09,148.68 L281.25,148.40 L281.42,148.13 L281.58,147.85 L281.74,147.57 L281.90,147.30 L282.07,147.02 L282.24,146.75 L282.40,146.47 L282.57,146.20 L282.74,145.92 L282.91,145.65 L283.07,145.38 L283.25,145.10 L283.42,144.83 L283.59,144.56 L283.76,144.29 L283.93,144.02 L284.11,143.74 L284.28,143.47 L284.46,143.20 L284.64,142.93 L284.82,142.66 L284.99,142.39 L285.17,142.13 L285.35,141.86 L285.54,141.59 L285.72,141.32 L285.90,141.05 L286.08,140.79 L286.27,140.52 L286.45,140.25 L286.64,139.99 L286.83,139.72 L287.02,139.45 L287.20,139.19 L287.39,138.92 L287.58,138.66 L287.78,138.39 L287.97,138.13 L288.16,137.86 L288.36,137.60 L288.55,137.34 L288.75,137.07 L288.94,136.81 L289.14,136.55 L289.34,136.28 L289.54,136.02 L289.74,135.76 L289.94,135.50 L290.14,135.23 L290.35,134.97 L290.55,134.71 L290.76,134.45 L290.96,134.19 L291.17,133.93 L291.38,133.67 L291.59,133.40 L291.80,133.14 L292.01,132.88 L292.22,132.62 L292.43,132.36 L292.64,132.10 L292.86,131.84 L293.07,131.58 L293.29,131.32 L293.51,131.07 L293.73,130.81 L293.95,130.55 L294.17,130.29 L294.39,130.04 L294.61,129.78 L294.84,129.53 L295.06,129.28 L295.29,129.03 L295.51,128.77 L295.74,128.53 L295.97,128.28 L296.20,128.03 L296.44,127.79 L296.67,127.54 L296.91,127.30 L297.14,127.06 L297.38,126.82 L297.62,126.59 L297.86,126.35 L298.10,126.12 L298.34,125.89 L298.59,125.66 L298.84,125.43 L299.08,125.21 L299.33,124.99 L299.58,124.77 L299.84,124.56 L300.09,124.34 L300.34,124.13 L300.60,123.92 L300.86,123.72 L301.12,123.52 L301.38,123.32 L301.64,123.12 L301.91,122.93 L302.18,122.74 L302.44,122.55 L302.71,122.37 L302.99,122.19 L303.26,122.01 L303.54,121.84 L303.81,121.67 L304.09,121.51 L304.37,121.35 L304.65,121.19 L304.94,121.04 L305.22,120.89 L305.51,120.74 L305.79,120.60 L306.08,120.46 L306.37,120.33 L306.66,120.20 L306.95,120.07 L307.25,119.95 L307.54,119.83 L307.84,119.72 L308.13,119.61 L308.43,119.51 L308.73,119.41 L309.03,119.31 L309.33,119.22 L309.62,119.14 L309.93,119.06 L310.23,118.98 L310.53,118.91 L310.83,118.84 L311.13,118.78 L311.43,118.72 L311.74,118.67 L312.04,118.62 L312.34,118.58 L312.65,118.54 L312.95,118.51 L313.26,118.48 L313.56,118.46 L313.86,118.44 L314.17,118.43 L314.47,118.42 L314.77,118.42 L315.08,118.42 L315.38,118.43 L315.68,118.45 L315.99,118.47 L316.29,118.49 L316.59,118.53 L316.89,118.56 L317.19,118.60 L317.49,118.65 L317.79,118.70 L318.09,118.76 L318.39,118.82 L318.69,118.89 L318.98,118.96 L319.28,119.03 L319.58,119.12 L319.87,119.20 L320.17,119.29 L320.46,119.39 L320.76,119.48 L321.05,119.59 L321.35,119.70 L321.64,119.81 L321.93,119.92 L322.22,120.04 L322.51,120.17 L322.80,120.30 L323.09,120.43 L323.38,120.57 L323.66,120.71 L323.95,120.85 L324.23,121.00 L324.52,121.15 L324.80,121.30 L325.09,121.46 L325.37,121.62 L325.65,121.79 L325.93,121.96 L326.21,122.13 L326.48,122.31 L326.76,122.48 L327.04,122.67 L327.31,122.85 L327.59,123.04 L327.86,123.23 L328.13,123.42 L328.40,123.62 L328.67,123.82 L328.94,124.02 L329.21,124.22 L329.47,124.43 L329.74,124.64 L330.00,124.85 L330.26,125.07 L330.53,125.28 L330.79,125.50 L331.04,125.73 L331.30,125.95 L331.56,126.17 L331.81,126.40 L332.07,126.63 L332.32,126.86 L332.57,127.10 L332.82,127.33 L333.06,127.57 L333.31,127.81 L333.56,128.05 L333.80,128.29 L334.04,128.53 L334.28,128.78 L334.52,129.03 L334.76,129.27 L334.99,129.52 L335.23,129.77 L335.46,130.02 L335.69,130.28 L335.92,130.53 L336.15,130.78 L336.38,131.04 L336.60,131.30 L336.82,131.55 L337.04,131.81 L337.26,132.07 L337.48,132.33 L337.70,132.59 L337.91,132.85 L338.12,133.11 L338.33,133.37 L338.54,133.63 L338.75,133.89 L338.96,134.16 L339.16,134.42 L339.36,134.68 L339.56,134.95 L339.76,135.21 L339.96,135.48 L340.16,135.74 L340.36,136.01 L340.55,136.28 L340.74,136.55 L340.93,136.81 L341.12,137.08 L341.31,137.35 L341.50,137.62 L341.69,137.89 L341.87,138.16 L342.05,138.43 L342.24,138.70 L342.42,138.97 L342.60,139.25 L342.78,139.52 L342.96,139.79 L343.13,140.06 L343.31,140.34 L343.48,140.61 L343.66,140.89 L343.83,141.16 L344.00,141.44 L344.17,141.71 L344.34,141.99 L344.51,142.26 L344.68,142.54 L344.85,142.81 L345.02,143.09 L345.18,143.37 L345.35,143.64 L345.51,143.92 L345.68,144.20 L345.84,144.48 L346.00,144.76 L346.16,145.04 L346.33,145.31 L346.49,145.59 L346.65,145.87 L346.81,146.15 L346.97,146.43 L347.12,146.71 L347.28,146.99 L347.44,147.27 L347.60,147.55 L347.75,147.83 L347.91,148.11 L348.07,148.39 L348.22,148.67 L348.38,148.95 L348.53,149.24 L348.69,149.52 L348.84,149.80 L349.00,150.08 L349.15,150.36 L349.31,150.64 L349.46,150.92 L349.61,151.21 L349.77,151.49 L349.92,151.77 L350.07,152.05 L350.23,152.33 L350.38,152.62 L350.54,152.90 L350.69,153.18 L350.84,153.46 L351.00,153.75 L351.15,154.03 L351.30,154.31 L351.46,154.59 L351.61,154.88 L351.77,155.16 L351.92,155.44 L352.08,155.73 L352.23,156.01 L352.39,156.29 L352.54,156.58 L352.70,156.86 L352.85,157.14 L353.01,157.42 L353.17,157.71 L353.32,157.99 L353.48,158.27 L353.64,158.56 L353.80,158.84 L353.96,159.12 L354.12,159.41 L354.28,159.69 L354.44,159.97 L354.60,160.26 L354.76,160.54 L354.92,160.82 L355.09,161.11 L355.25,161.39 L355.41,161.67 L355.58,161.95 L355.75,162.24 L355.91,162.52 L356.08,162.80 L356.25,163.09 L356.42,163.37 L356.59,163.65 L356.76,163.93 L356.93,164.22 L357.10,164.50" stroke="#007d00" stroke-width="2.6" stroke-dasharray="3.9 2.2 7.45 2.2"/>
</g>
<g stroke="#000" stroke-width="1.3" fill="none">
<path d="M15.5,164.5 H364"/>
<path d="M189.7,29.8 V244.3"/>
<path d="M22.70,164.5 v-4.0 M39.42,164.5 v-2.5 M56.14,164.5 v-2.5 M72.86,164.5 v-2.5 M89.58,164.5 v-2.5 M106.30,164.5 v-4.0 M123.02,164.5 v-2.5 M139.74,164.5 v-2.5 M156.46,164.5 v-2.5 M173.18,164.5 v-2.5 M206.62,164.5 v-2.5 M223.34,164.5 v-2.5 M240.06,164.5 v-2.5 M256.78,164.5 v-2.5 M273.50,164.5 v-4.0 M290.22,164.5 v-2.5 M306.94,164.5 v-2.5 M323.66,164.5 v-2.5 M340.38,164.5 v-2.5 M357.10,164.5 v-4.0 M189.7,242.20 h2.5 M189.7,236.65 h2.5 M189.7,231.10 h2.5 M189.7,225.55 h2.5 M189.7,220.00 h4.0 M189.7,214.45 h2.5 M189.7,208.90 h2.5 M189.7,203.35 h2.5 M189.7,197.80 h2.5 M189.7,192.25 h4.0 M189.7,186.70 h2.5 M189.7,181.15 h2.5 M189.7,175.60 h2.5 M189.7,170.05 h2.5 M189.7,158.95 h2.5 M189.7,153.40 h2.5 M189.7,147.85 h2.5 M189.7,142.30 h2.5 M189.7,136.75 h4.0 M189.7,131.20 h2.5 M189.7,125.65 h2.5 M189.7,120.10 h2.5 M189.7,114.55 h2.5 M189.7,109.00 h4.0 M189.7,103.45 h2.5 M189.7,97.90 h2.5 M189.7,92.35 h2.5 M189.7,86.80 h2.5 M189.7,81.25 h4.0 M189.7,75.70 h2.5 M189.7,70.15 h2.5 M189.7,64.60 h2.5 M189.7,59.05 h2.5 M189.7,53.50 h4.0 M189.7,47.95 h2.5 M189.7,42.40 h2.5 M189.7,36.85 h2.5"/>
</g>
<text x="22.8" y="180.3" text-anchor="middle"><tspan style="font-size:16.5px" dy="0.9">−</tspan><tspan dy="-0.9">1.0</tspan></text>
<text x="106.4" y="180.3" text-anchor="middle"><tspan style="font-size:16.5px" dy="0.9">−</tspan><tspan dy="-0.9">0.5</tspan></text>
<text x="273.6" y="180.3" text-anchor="middle">0.5</text>
<text x="357.2" y="180.3" text-anchor="middle">1.0</text>
<text x="186.1" y="58.4" text-anchor="end">0.04</text>
<text x="186.1" y="86.2" text-anchor="end">0.03</text>
<text x="186.1" y="113.9" text-anchor="end">0.02</text>
<text x="186.1" y="141.7" text-anchor="end">0.01</text>
<text x="186.1" y="197.2" text-anchor="end"><tspan style="font-size:16.5px" dy="0.9">−</tspan><tspan dy="-0.9">0.01</tspan></text>
<text x="186.1" y="224.9" text-anchor="end"><tspan style="font-size:16.5px" dy="0.9">−</tspan><tspan dy="-0.9">0.02</tspan></text>
<text transform="translate(190,19) scale(0.99,1.06)" text-anchor="middle" style="font-size:17px"><tspan class="it">A</tspan><tspan dx="0.3">(</tspan><tspan class="it">X</tspan><tspan dx="0.6">)</tspan></text>
<text class="it" transform="translate(379.4,169) scale(0.94,1.06)" text-anchor="middle" style="font-size:17px">X</text>
<rect x="232.5" y="6" width="150" height="71" fill="#fff"/>
<g fill="none" stroke-width="2.6">
<path d="M242.8,20.4 H300.9" stroke="#000"/>
<path d="M242.8,36.8 H300.5" stroke="#ff0000" stroke-dasharray="8.8 5.7"/>
<path d="M242.8,52.9 H300.9" stroke="#0000ff" stroke-dasharray="3.8 1.06"/>
<path d="M242.8,69.55 H300.9" stroke="#007d00" stroke-dasharray="3.9 2.2 7.4 2.2"/>
</g>
<text class="it" transform="translate(308.7,24.6) scale(0.88,1)" style="font-size:17px">A</text><text x="319.3" y="17.6" style="font-size:11px;letter-spacing:0.5px">(0)</text>
<text x="334.2" y="26.3" style="font-size:18.5px">+</text>
<text class="it" transform="translate(344.9,24.6) scale(0.88,1)" style="font-size:17px">A</text><text x="355.5" y="17.6" style="font-size:11px;letter-spacing:0.5px">(1)</text>
<text class="it" transform="translate(308.7,41.2) scale(0.88,1)" style="font-size:17px">A</text><text x="319.3" y="33.6" style="font-size:11px;letter-spacing:0.5px">(1)</text>
<text class="it" transform="translate(308.7,57.6) scale(0.88,1)" style="font-size:17px">A</text><text x="319.3" y="49.8" style="font-size:11px;letter-spacing:0.5px">(0)</text>
<text x="308.4" y="71.9" style="font-size:14.5px">local model</text>
</svg>
</body></html>
